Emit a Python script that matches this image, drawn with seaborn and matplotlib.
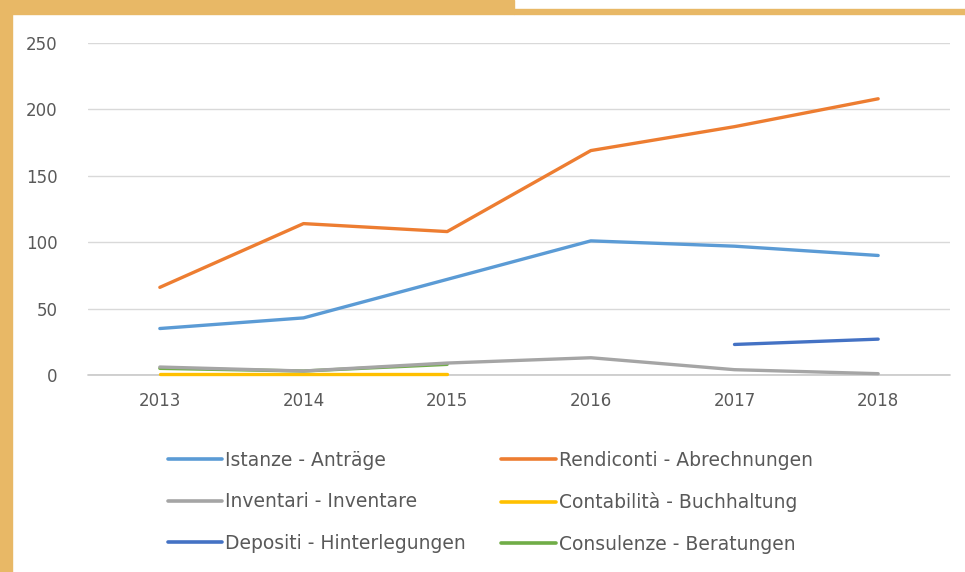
import numpy as np
import pandas as pd
import seaborn as sns
import matplotlib.pyplot as plt
from matplotlib.patches import Rectangle

years = [2013, 2014, 2015, 2016, 2017, 2018]
istanze = [35, 43, 72, 101, 97, 90]
rendiconti = [66, 114, 108, 169, 187, 208]
inventari = [6, 3, 9, 13, 4, 1]
contabilita = [1, 1, 1, np.nan, np.nan, np.nan]
depositi = [np.nan, np.nan, np.nan, np.nan, 23, 27]
consulenze = [5, 3, 8, np.nan, np.nan, np.nan]

series_names = ["Istanze - Anträge", "Rendiconti - Abrechnungen",
                "Inventari - Inventare", "Contabilità - Buchhaltung",
                "Depositi - Hinterlegungen", "Consulenze - Beratungen"]
series_values = [istanze, rendiconti, inventari, contabilita, depositi, consulenze]
colors = ["#5B9BD5", "#ED7D31", "#A5A5A5", "#FFC000", "#4472C4", "#70AD47"]

rows = []
for name, vals in zip(series_names, series_values):
    for y, v in zip(years, vals):
        rows.append({"year": y, "value": v, "serie": name})
df = pd.DataFrame(rows)

sns.set_theme(style="white")
plt.rcParams['font.family'] = ['DejaVu Sans']

fig = plt.figure(figsize=(9.65, 5.72), dpi=100)
fig.patch.set_facecolor("white")

# golden frame
tan = "#E8B866"
fig.patches.append(Rectangle((0, 0), 12 / 965, 1, transform=fig.transFigure, color=tan, zorder=0))
fig.patches.append(Rectangle((0, 1 - 14 / 572), 514 / 965, 14 / 572, transform=fig.transFigure, color=tan, zorder=0))
fig.patches.append(Rectangle((514 / 965, 1 - 14 / 572), 1, 5 / 572, transform=fig.transFigure, color=tan, zorder=0))

ax = fig.add_axes([88 / 965, (572 - 375) / 572, (950 - 88) / 965, (375 - 43) / 572])
ax.set_facecolor("none")

# sparse series first so the main lines sit on top
order = [5, 3, 2, 4, 0, 1]
for i in order:
    sub = df[df["serie"] == series_names[i]].dropna()
    sns.lineplot(data=sub, x="year", y="value", ax=ax, color=colors[i],
                 linewidth=2.4, clip_on=False, zorder=3, label="_nolegend_")

ax.set_xlim(2012.5, 2018.5)
ax.set_ylim(0, 250)
ax.set_yticks(range(0, 251, 50))
ax.set_xticks(years)
ax.grid(axis="y", color="#D9D9D9", linewidth=1)
ax.axhline(0, color="#C8C8C8", linewidth=1.2, zorder=1, clip_on=False)
ax.set_axisbelow(True)
for s in ax.spines.values():
    s.set_visible(False)
ax.tick_params(axis="both", length=0, labelsize=12, labelcolor="#595959")
ax.tick_params(axis="x", pad=12)
ax.tick_params(axis="y", pad=22)
ax.set_xlabel("")
ax.set_ylabel("")

# legend filled row by row like the original
leg_order = [0, 2, 4, 1, 3, 5]
handles = [plt.Line2D([], [], color=colors[i], linewidth=2.6) for i in leg_order]
labels = [series_names[i] for i in leg_order]
fig.legend(handles, labels, ncol=2, loc="upper left",
           bbox_to_anchor=(151 / 965, 1 - 434 / 572), frameon=False,
           fontsize=13.5, labelcolor="#595959", handlelength=2.9,
           handletextpad=0.15, columnspacing=1.9, labelspacing=1.2)

fig.savefig("out.png", dpi=100)
